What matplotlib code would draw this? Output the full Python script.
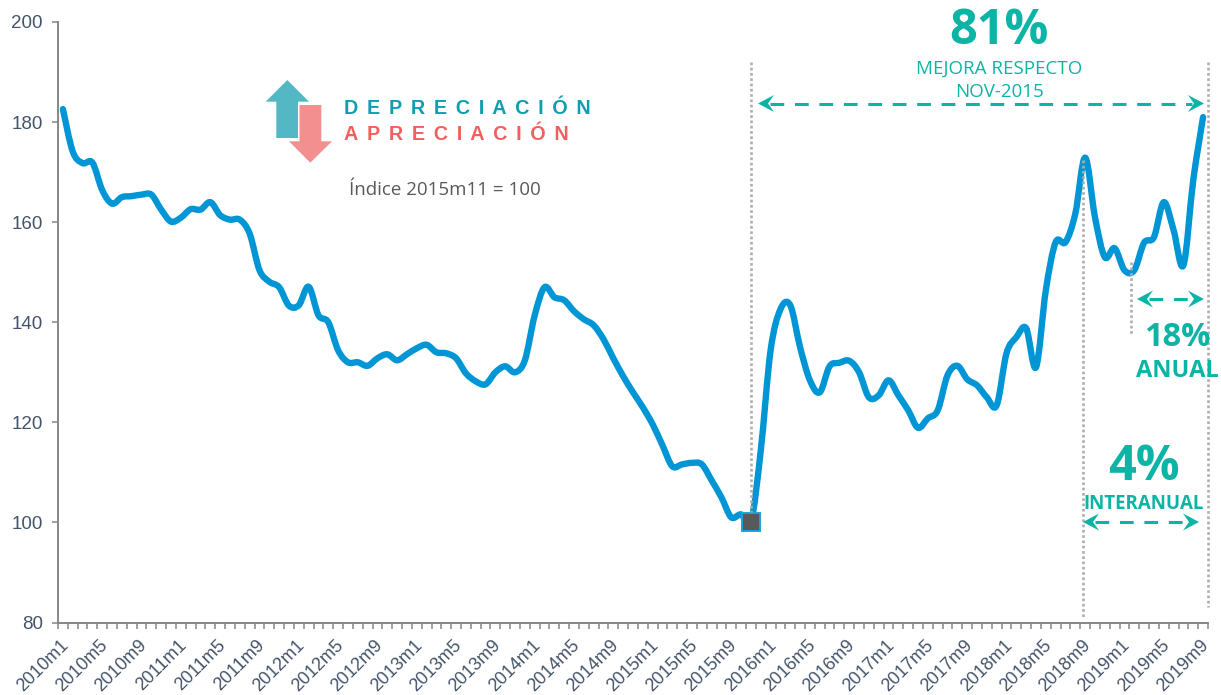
import matplotlib
matplotlib.use("Agg")
import matplotlib.pyplot as plt
import matplotlib.patches as patches
from matplotlib.lines import Line2D
from matplotlib.path import Path
from matplotlib.transforms import ScaledTranslation
import numpy as np

W, H = 1221, 695

# monthly index 2010m1 - 2019m9
years = list(range(2010, 2020))
months = [f"{y}m{m}" for y in years for m in range(1, 13)][:117]

values = [
    182.6, 174.1, 171.8, 171.9, 166.4, 163.7, 165.0, 165.2, 165.5, 165.5, 162.5, 160.1,
    160.9, 162.6, 162.5, 164.0, 161.4, 160.5, 160.5, 157.7, 150.4, 148.1, 147.0, 143.3,
    143.4, 147.1, 141.4, 140.0, 134.4, 132.0, 132.0, 131.3, 132.8, 133.6, 132.4, 133.6,
    134.8, 135.5, 134.0, 133.8, 132.8, 129.8, 128.2, 127.6, 130.0, 131.2, 130.0, 132.4,
    141.4, 147.0, 145.0, 144.4, 142.2, 140.6, 139.4, 136.6, 132.8, 129.2, 126.0, 123.0,
    119.6, 115.4, 111.2, 111.6, 111.9, 111.6, 108.4, 105.0, 101.0, 101.6, 100.0, 114.4,
    134.4, 142.6, 143.4, 135.0, 128.4, 126.0, 131.2, 131.9, 132.3, 130.0, 125.0, 125.4,
    128.4, 125.4, 122.4, 118.9, 120.8, 122.4, 129.4, 131.3, 128.6, 127.4, 125.0, 123.4,
    133.8, 137.0, 138.8, 131.0, 146.4, 156.0, 156.0, 161.7, 172.9, 161.0, 153.0, 154.8,
    150.4, 150.4, 155.9, 157.0, 164.0, 158.4, 151.4, 168.4, 181.0,
]
base_month = "2015m11"
y_ticks = [80, 100, 120, 140, 160, 180, 200]

TEAL = "#0cb4a6"
GREY = "#adadad"
AXIS = "#868686"
LABEL = "#44546a"


def fx(x):
    return x / W


def fy(y):
    return 1 - y / H


def smooth_path(xs, ys):
    # excel style smoothed line, bezier segments through every point
    n = len(xs)
    verts = [(xs[0], ys[0])]
    codes = [Path.MOVETO]
    for i in range(n - 1):
        i0, i3 = max(i - 1, 0), min(i + 2, n - 1)
        c1 = (xs[i] + (xs[i + 1] - xs[i0]) / 6, ys[i] + (ys[i + 1] - ys[i0]) / 6)
        c2 = (xs[i + 1] - (xs[i3] - xs[i]) / 6, ys[i + 1] - (ys[i3] - ys[i]) / 6)
        verts += [c1, c2, (xs[i + 1], ys[i + 1])]
        codes += [Path.CURVE4] * 3
    return Path(verts, codes)


fig = plt.figure(figsize=(W / 100, H / 100), dpi=100)
ax = fig.add_axes([fx(58), fy(622.5), fx(1208 - 58), fy(22) - fy(622.5)])

xpos = np.arange(len(months)) + 0.5
ax.add_patch(patches.PathPatch(smooth_path(xpos, values), fill=False, edgecolor="#0096d6",
                               linewidth=4.6, capstyle="round", joinstyle="round", zorder=3))

# base month marker
b = months.index(base_month)
ax.plot([xpos[b]], [values[b]], marker="s", markersize=13.5, markerfacecolor="#595959",
        markeredgecolor="#1ba1dc", markeredgewidth=1.4, linestyle="none", zorder=4,
        clip_on=False)

ax.set_xlim(0, len(months))
ax.set_ylim(80, 200)
ax.set_yticks(y_ticks)
ax.set_xticks(np.arange(len(months) + 1), minor=True)
ax.set_xticks(xpos[::4])
ax.set_xticklabels(months[::4], rotation=45, ha="right", rotation_mode="anchor",
                   family="Liberation Sans", fontsize=13, color=LABEL)
ax.tick_params(axis="x", which="major", length=0, pad=10)
ax.tick_params(axis="x", which="minor", length=4.5, width=1.1, color=AXIS)
ax.tick_params(axis="y", length=4.5, width=1.1, color=AXIS, pad=6.5, labelsize=13.5, labelcolor=LABEL)
shift = ScaledTranslation(-3 / 100, 0, fig.dpi_scale_trans)
for t in ax.get_xticklabels():
    t.set_transform(t.get_transform() + shift)
for t in ax.get_yticklabels():
    t.set_family("Liberation Sans")
for s in ["top", "right"]:
    ax.spines[s].set_visible(False)
for s in ["left", "bottom"]:
    ax.spines[s].set_color(AXIS)
    ax.spines[s].set_linewidth(1.4)


def vline(x, y0, y1):
    fig.add_artist(Line2D([fx(x), fx(x)], [fy(y0), fy(y1)], color=GREY, linewidth=1.9,
                          linestyle=(0, (1, 1)), zorder=1))


def head(tip, y, direction):
    pts = [(tip, y), (tip - direction * 16, y - 8.5), (tip - direction * 10, y),
           (tip - direction * 16, y + 8.5)]
    fig.add_artist(patches.Polygon([(fx(a), fy(c)) for a, c in pts], closed=True, facecolor=TEAL,
                                   edgecolor="none", transform=fig.transFigure, zorder=5))


def double_arrow(x0, x1, y):
    fig.add_artist(Line2D([fx(x0 + 12), fx(x1 - 12)], [fy(y), fy(y)], color=TEAL, linewidth=2.2,
                          linestyle=(0, (4.5, 3.5)), zorder=5))
    head(x0, y, -1)
    head(x1, y, 1)


vline(751, 62, 512)
vline(1083, 160, 618)
vline(1208, 62, 607)
vline(1131, 262, 334)

double_arrow(758, 1204, 103.5)
double_arrow(1137, 1204, 299)
double_arrow(1083, 1199, 522)


def label(x, y, s, size, color=TEAL, weight="normal", ha="center", family="Open Sans"):
    fig.text(fx(x), fy(y), s, fontsize=size, color=color, fontweight=weight, ha=ha, va="center",
             family=family, zorder=6)


label(999, 31, "81%", 35, weight="bold")
label(999, 69, "MEJORA RESPECTO", 13.5)
label(999, 92, "NOV-2015", 13.5)
label(1177, 338, "18%", 23.4, weight="bold")
label(1177, 371, "ANUAL", 17, weight="bold")
label(1144, 467, "4%", 35, weight="bold")
label(1144, 504, "INTERANUAL", 13.5, weight="bold")
label(349, 190, "Índice 2015m11 = 100", 13.5, color="#595959", ha="left")

# depreciation / appreciation legend
up = [(287.3, 80), (309, 101.7), (298, 101.7), (298, 138), (276.3, 138), (276.3, 101.7), (265.7, 101.7)]
down = [(299.5, 105), (321.3, 105), (321.3, 141.3), (332, 141.3), (310.3, 162.7), (289, 141.3), (299.5, 141.3)]
fig.add_artist(patches.Polygon([(fx(a), fy(c)) for a, c in up], closed=True, facecolor="#54b8c4",
                               edgecolor="none", transform=fig.transFigure))
fig.add_artist(patches.Polygon([(fx(a), fy(c)) for a, c in down], closed=True, facecolor="#f48f8f",
                               edgecolor="none", transform=fig.transFigure))
label(344, 108, "\u200a\u200a ".join("DEPRECIACIÓN"), 14.25, color="#0d9fb0", weight="bold", ha="left", family="Liberation Sans")
label(344, 134, "\u200a\u200a ".join("APRECIACIÓN"), 14.25, color="#f0605f", weight="bold", ha="left", family="Liberation Sans")

fig.savefig("out.png", dpi=100)
